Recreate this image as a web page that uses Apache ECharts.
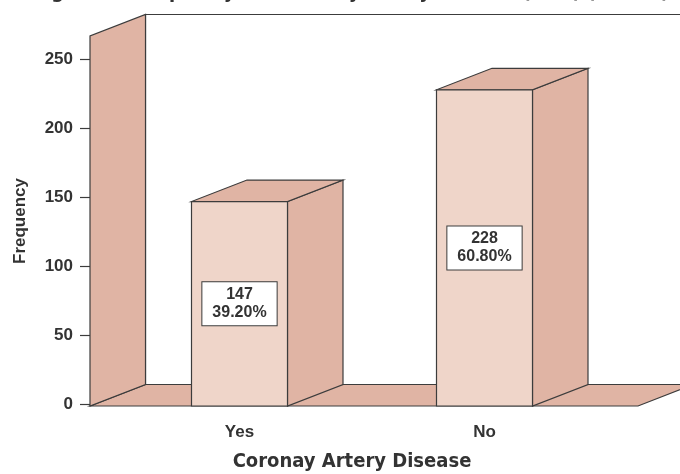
<!DOCTYPE html>
<html>
<head>
<meta charset="utf-8">
<script src="https://cdn.jsdelivr.net/npm/echarts@6/dist/echarts.min.js"></script>
<style>
  html, body { margin: 0; padding: 0; background: #fff; }
  #chart { width: 680px; height: 474px; }
</style>
</head>
<body>
<div id="chart"></div>
<script>
// data
const categories = ['Yes', 'No'];
const frequency = [147, 228];
const percentLabels = ['39.20%', '60.80%'];
const yTicks = [0, 50, 100, 150, 200, 250];
const titleText = 'Figure 1: Frequency of Coronary Artery Disease (CAD) (n=375)';

// look
const WALL = '#E0B4A4';
const FRONT = '#EFD5C9';
const EDGE = '#3c3c3c';
const INK = '#333';
const DX = 55.5, DY = 21.5;      // fake 3d depth
const WALL_PAD = 27, FLOOR_PAD = 31;
const BAR_W = 96;
const NARROW = '"DejaVu Sans Condensed", sans-serif';
const SANS = '"Liberation Sans", Arial, sans-serif';

const chart = echarts.init(document.getElementById('chart'));

const renderFrame = (params, api) => {
  const cs = params.coordSys;
  const left = cs.x - WALL_PAD;
  const right = cs.x + cs.width + FLOOR_PAD;
  const top = cs.y;
  const bottom = cs.y + cs.height;
  const edge = { stroke: EDGE, lineWidth: 1.2 };
  return {
    type: 'group',
    children: [
      {
        type: 'rect',
        shape: { x: left + DX, y: top - DY, width: 1000, height: bottom - top },
        style: { fill: '#fff', ...edge }
      },
      {
        type: 'polygon',
        shape: { points: [[left, bottom], [right, bottom], [right + DX, bottom - DY], [left + DX, bottom - DY]] },
        style: { fill: WALL, ...edge }
      },
      {
        type: 'polygon',
        shape: { points: [[left, bottom], [left, top], [left + DX, top - DY], [left + DX, bottom - DY]] },
        style: { fill: WALL, ...edge }
      }
    ]
  };
};

const renderBar = (params, api) => {
  const cs = params.coordSys;
  const idx = api.value(0);
  const val = api.value(1);
  const p = api.coord([idx, val]);
  const xl = p[0] - BAR_W / 2;
  const xr = p[0] + BAR_W / 2;
  const yt = p[1];
  const yb = cs.y + cs.height;
  const edge = { stroke: EDGE, lineWidth: 1.2 };
  return {
    type: 'group',
    children: [
      {
        type: 'polygon',
        shape: { points: [[xr, yb], [xr, yt], [xr + DX, yt - DY], [xr + DX, yb - DY]] },
        style: { fill: WALL, ...edge }
      },
      {
        type: 'polygon',
        shape: { points: [[xl, yt], [xr, yt], [xr + DX, yt - DY], [xl + DX, yt - DY]] },
        style: { fill: WALL, ...edge }
      },
      {
        type: 'rect',
        shape: { x: xl, y: yt, width: BAR_W, height: yb - yt },
        style: { fill: FRONT, ...edge },
        textContent: {
          style: {
            text: frequency[params.dataIndex] + '\n' + percentLabels[params.dataIndex],
            fill: INK,
            font: 'bold 16px ' + SANS,
            align: 'center',
            lineHeight: 18,
            backgroundColor: '#fff',
            borderColor: EDGE,
            borderWidth: 1,
            padding: [4, 10, 3, 10]
          }
        },
        textConfig: { position: 'inside' }
      }
    ]
  };
};

chart.setOption({
  animation: false,
  graphic: [{
    type: 'text',
    x: 351,
    y: 3,
    style: {
      text: titleText,
      font: 'bold 20px ' + NARROW,
      fill: INK,
      align: 'center',
      verticalAlign: 'bottom'
    }
  }],
  grid: { left: 117, right: 73, top: 36, bottom: 68, outerBoundsMode: 'none' },
  xAxis: {
    type: 'category',
    data: categories,
    axisLine: { show: false },
    axisTick: { alignWithLabel: true, length: 10, lineStyle: { color: EDGE, width: 1.2 } },
    axisLabel: { margin: 18, color: INK, fontSize: 17, fontWeight: 'bold', fontFamily: SANS },
    name: 'Coronay Artery Disease',
    nameLocation: 'middle',
    nameGap: 46,
    nameTextStyle: {
      color: INK, fontSize: 20, fontWeight: 'bold', fontFamily: NARROW,
      padding: [0, 20, 0, 0]
    }
  },
  yAxis: {
    type: 'value',
    min: -1.2,
    max: 267,
    offset: WALL_PAD,
    axisLine: { show: false },
    splitLine: { show: false },
    axisTick: { show: true, length: 10, customValues: yTicks, lineStyle: { color: EDGE, width: 1.2 } },
    axisLabel: { margin: 17, customValues: yTicks, color: INK, fontSize: 17, fontWeight: 'bold', fontFamily: SANS },
    name: 'Frequency',
    nameLocation: 'middle',
    nameGap: 61,
    nameTextStyle: { color: INK, fontSize: 17, fontWeight: 'bold', fontFamily: SANS }
  },
  series: [
    {
      type: 'custom',
      renderItem: renderFrame,
      data: [[0, 0]],
      silent: true
    },
    {
      type: 'custom',
      renderItem: renderBar,
      encode: { x: 0, y: 1 },
      data: categories.map((c, i) => [i, frequency[i]])
    }
  ]
});
</script>
</body>
</html>
